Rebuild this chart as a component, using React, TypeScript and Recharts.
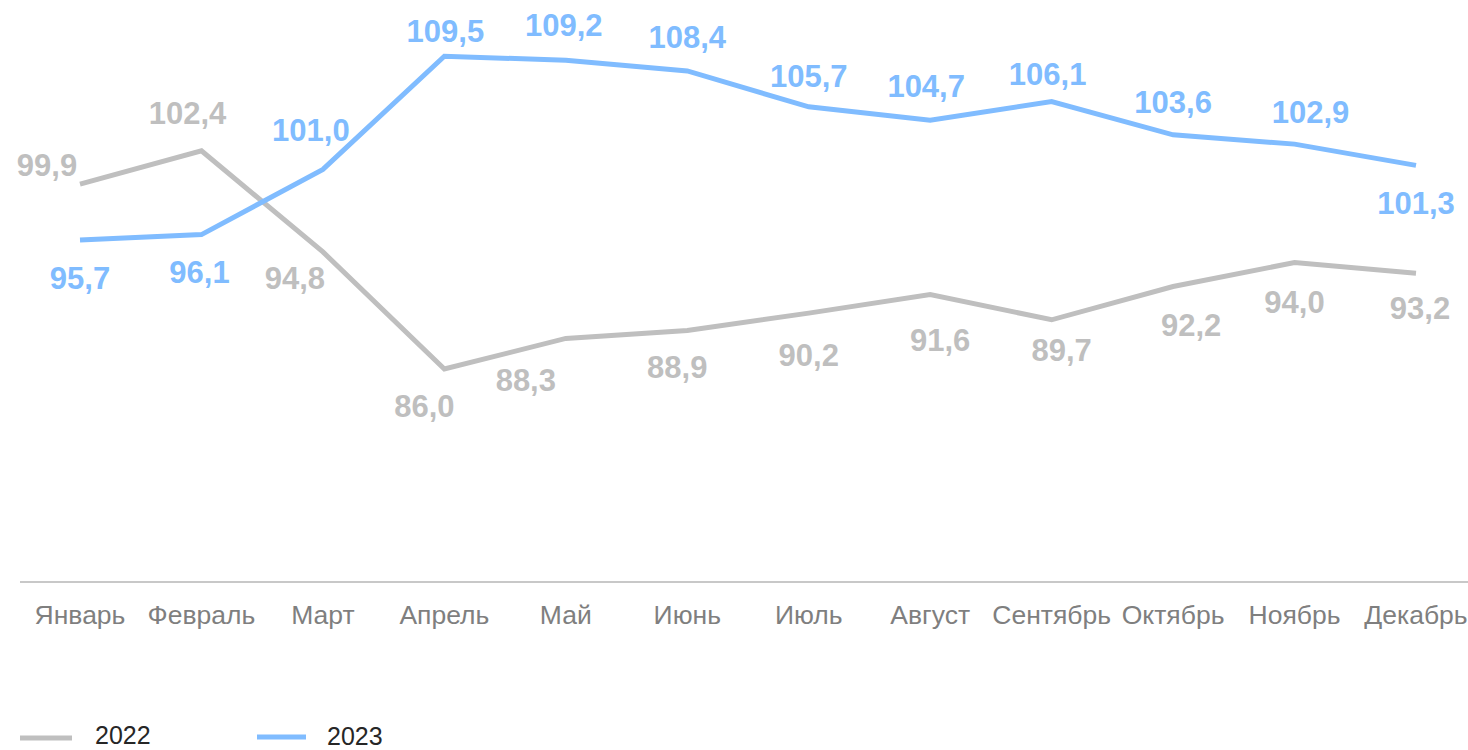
import { LineChart, Line, XAxis, YAxis, LabelList } from 'recharts';

const months = ['Январь', 'Февраль', 'Март', 'Апрель', 'Май', 'Июнь', 'Июль', 'Август', 'Сентябрь', 'Октябрь', 'Ноябрь', 'Декабрь'];
const values2022 = [99.9, 102.4, 94.8, 86.0, 88.3, 88.9, 90.2, 91.6, 89.7, 92.2, 94.0, 93.2];
const values2023 = [95.7, 96.1, 101.0, 109.5, 109.2, 108.4, 105.7, 104.7, 106.1, 103.6, 102.9, 101.3];

// label offsets from the point (text centre), per month
const offsets2022 = [[-33, -19], [-14, -38], [-28, 26], [-20, 37], [-40, 42], [-10, 37], [0, 42], [10, 45], [10, 30], [18, 38], [0, 39], [4, 35]];
const offsets2023 = [[0, 38], [-2, 37], [-12, -39], [1, -25], [-2, -35], [0, -34], [0, -31], [-4, -34], [-4, -28], [0, -33], [16, -32], [0, 38]];

const GRAY = '#bfbfbf';
const BLUE = '#80bcff';
const FONT = "'Liberation Sans', Arial, sans-serif";

const data = months.map((m, i) => ({ month: m, y2022: values2022[i], y2023: values2023[i] }));

const fmt = (v: number) => v.toFixed(1).replace('.', ',');

function makeLabel(offsets: number[][], color: string) {
  return (props: any) => {
    const { x, y, value, index } = props;
    const [dx, dy] = offsets[index];
    return (
      <text x={x + dx} y={y + dy + 11} textAnchor="middle" fill={color} fontSize={31} fontWeight="bold" fontFamily={FONT}>
        {fmt(value)}
      </text>
    );
  };
}

function MonthTick(props: any) {
  const { x, y, payload } = props;
  return (
    <text x={x} y={y + 42} textAnchor="middle" fill="#7f7f7f" fontSize={26.5} fontFamily={FONT}>
      {payload.value}
    </text>
  );
}

function LegendRow() {
  return (
    <svg width={1468} height={50} style={{ position: 'absolute', left: 0, top: 700 }}>
      <line x1={20} x2={72} y1={38} y2={38} stroke={GRAY} strokeWidth={5} />
      <text x={95} y={44} fontSize={25} fill="#262626" fontFamily={FONT}>2022</text>
      <line x1={257} x2={306} y1={37} y2={37} stroke={BLUE} strokeWidth={5} />
      <text x={327} y={45} fontSize={25} fill="#262626" fontFamily={FONT}>2023</text>
    </svg>
  );
}

export default function App() {
  return (
    <div style={{ position: 'absolute', left: 0, top: 0, width: 1468, height: 750, background: '#fff', overflow: 'hidden' }}>
      <LineChart width={1468} height={750} data={data} margin={{ top: 23, right: 0, left: 20, bottom: 128 }}>
        <XAxis
          dataKey="month"
          padding={{ left: 60, right: 52 }}
          axisLine={{ stroke: '#c8c8c8', strokeWidth: 2 }}
          tickLine={false}
          tickSize={0}
          tickMargin={0}
          tick={<MonthTick />}
          interval={0}
          height={40}
        />
        <YAxis hide domain={[70, 112]} width={0} />
        <Line dataKey="y2022" stroke={GRAY} strokeWidth={5} dot={false} activeDot={false} isAnimationActive={false}>
          <LabelList dataKey="y2022" content={makeLabel(offsets2022, GRAY)} />
        </Line>
        <Line dataKey="y2023" stroke={BLUE} strokeWidth={5} dot={false} activeDot={false} isAnimationActive={false}>
          <LabelList dataKey="y2023" content={makeLabel(offsets2023, BLUE)} />
        </Line>
      </LineChart>
      <LegendRow />
    </div>
  );
}
